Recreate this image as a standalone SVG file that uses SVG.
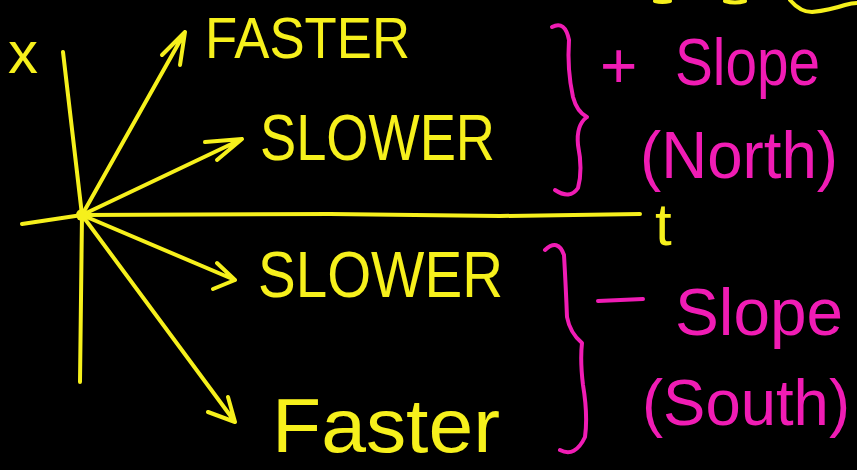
<svg xmlns="http://www.w3.org/2000/svg" width="857" height="470" viewBox="0 0 857 470">
<style>
.y{stroke:#f6f01c;stroke-width:4;fill:none;stroke-linecap:round;stroke-linejoin:round}
.m{stroke:#f01cb4;stroke-width:4;fill:none;stroke-linecap:round;stroke-linejoin:round}
.ty{fill:#f6f01c;font-family:"Liberation Sans",Arial,sans-serif}
.tm{fill:#f01cb4;font-family:"Liberation Sans",Arial,sans-serif}
</style>
<rect width="857" height="470" fill="#000"/>
<g id="scribbles">
<path class="y" d="M655,1 Q662,3 670,1 M725,1 Q735,4 745,1 M790,0 Q800,12 812,12 Q830,10 845,5 Q852,3 857,3"/>
</g>
<g id="axes">
<path class="y" d="M63,52 L82,215 L80,382"/>
<path class="y" d="M22,224 L82,215 L330,214 L500,216 L640,214"/>
<circle cx="82" cy="215" r="6" fill="#f6f01c"/>
<text class="ty" x="8" y="73" font-size="60">x</text>
<text class="ty" x="655" y="245" font-size="60">t</text>
</g>
<g id="connectors">
<path class="y" d="M82,215 L185,32 M162,55 L185,32 L180,65"/>
<path class="y" d="M82,215 L242,139 M205,142 L242,139 L217,160"/>
<path class="y" d="M82,215 L235,280 M217,263 L235,280 L213,289"/>
<path class="y" d="M82,215 L235,422 M208,412 L235,422 L228,397"/>
</g>
<g id="label-faster-up"><text class="ty" x="205" y="58" font-size="58" textLength="205" lengthAdjust="spacingAndGlyphs">FASTER</text></g>
<g id="label-slower-up"><text class="ty" x="260" y="160" font-size="64" textLength="235" lengthAdjust="spacingAndGlyphs">SLOWER</text></g>
<g id="label-slower-down"><text class="ty" x="258" y="297" font-size="64" textLength="245" lengthAdjust="spacingAndGlyphs">SLOWER</text></g>
<g id="label-faster-down"><text class="ty" x="272" y="452" font-size="76" textLength="228" lengthAdjust="spacingAndGlyphs">Faster</text></g>
<g id="brace-positive">
<path class="m" d="M552,27 Q565,20 569,40 Q567,70 573,97 Q577,112 587,117 Q576,125 578,145 Q583,170 578,188 Q570,200 555,190"/>
<text class="tm" x="600" y="88" font-size="64">+</text>
<text class="tm" x="675" y="85" font-size="66" textLength="145" lengthAdjust="spacingAndGlyphs">Slope</text>
<text class="tm" x="640" y="178" font-size="66" textLength="198" lengthAdjust="spacingAndGlyphs">(North)</text>
</g>
<g id="brace-negative">
<path class="m" d="M545,250 Q558,238 564,255 Q566,290 567,317 Q570,333 582,343 Q580,360 583,385 Q588,415 585,437 Q575,458 560,450"/>
<path class="m" d="M598,301 L643,299"/>
<text class="tm" x="675" y="335" font-size="66" textLength="168" lengthAdjust="spacingAndGlyphs">Slope</text>
<text class="tm" x="642" y="425" font-size="64" textLength="208" lengthAdjust="spacingAndGlyphs">(South)</text>
</g>
</svg>
